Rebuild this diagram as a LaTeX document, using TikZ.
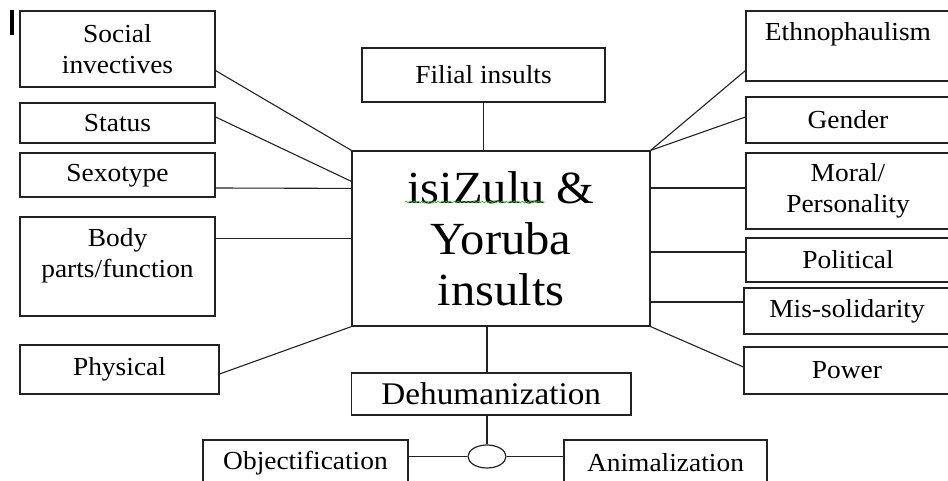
\documentclass[tikz,border=0pt]{standalone}
\usepackage{fontspec}
\setmainfont{Liberation Serif}[FakeStretch=1.055]
\usetikzlibrary{decorations.pathmorphing,shapes.geometric}
\definecolor{ln}{HTML}{222222}
\tikzset{
  box/.style={draw=ln, line width=1.2pt, rectangle, inner sep=0pt, align=center, font=\fontsize{26}{31}\selectfont},
  conn/.style={draw=ln, line width=1.1pt},
}
\begin{document}
\begin{tikzpicture}[x=1pt,y=-1pt]
\useasboundingbox (0,0) rectangle (948,481);
\clip (0,0) rectangle (948,481);
\fill[black] (10,10) rectangle (13.5,35);
% left
\node[box, minimum width=195, minimum height=76] (soc) at (117.5,49) {Social\\invectives};
\node[box, minimum width=195, minimum height=40] (status) at (117.5,123) {Status};
\node[box, minimum width=195, minimum height=44] (sexo) at (117.5,175) {\strut Sexotype};
\node[box, minimum width=195, minimum height=99] (body) at (117.5,266.5) {Body\\parts/function\\[-4pt]\mbox{}};
\node[box, minimum width=199, minimum height=49] (phys) at (119.5,369.5) {Physical};
% top and center
\node[box, minimum width=243, minimum height=54] (filial) at (483.5,75) {Filial insults};
\node[box, minimum width=298, minimum height=175, font=\fontsize{46}{51}\selectfont] (center) at (501,238.5) {isiZulu \&\\Yoruba\\insults};
% right
\node[box, minimum width=204, minimum height=70] (ethno) at (848,46) {Ethnophaulism\\[-2pt]\mbox{}};
\node[box, minimum width=204, minimum height=46] (gender) at (848,120) {Gender};
\node[box, minimum width=204, minimum height=76] (moral) at (848,191) {Moral/\\Personality};
\node[box, minimum width=204, minimum height=44] (polit) at (848,260) {Political};
\node[box, minimum width=206, minimum height=46] (missol) at (847,311) {Mis-solidarity};
\node[box, minimum width=206, minimum height=47] (power) at (847,370.5) {Power};
% bottom
\node[box, minimum width=279.5, minimum height=42, font=\fontsize{31.5}{34}\selectfont] (dehum) at (491.25,394) {Dehumanization};
\node[draw=ln, line width=1.2pt, ellipse, minimum width=38, minimum height=23, inner sep=0pt] (ell) at (487,456.5) {};
\node[box, minimum width=205, minimum height=46] (obj) at (305.5,463) {Objectification};
\node[box, minimum width=203, minimum height=46] (anim) at (665.5,463) {Animalization};
% spell-check underline
\coordinate (sq1) at (405,202);
\coordinate (sq2) at (545,202);
\draw[green!65!black!80, line width=0.7pt, decorate, decoration={snake, amplitude=0.9pt, segment length=4pt}] (sq1) -- (sq2);
% connectors
\draw[conn] ([yshift=17pt]soc.south east) -- (center.north west);
\draw[conn] ([yshift=6pt]status.east) -- ([yshift=-31pt]center.north west);
\draw[conn] ([yshift=-13pt]sexo.east) -- ([yshift=-38pt]center.north west);
\draw[conn] (body.east |- center.west) -- (center.west);
\draw[conn] ([yshift=-4.5pt]phys.east) -- (center.south west);
\draw[conn] (filial.south) -- (filial.south |- center.north);
\draw[conn] ([yshift=11pt]ethno.south west) -- (center.north east);
\draw[conn] ([yshift=3pt]gender.west) -- (center.north east);
\coordinate (m1) at ([yshift=3pt]moral.west);
\draw[conn] (m1) -- (center.east |- m1);
\coordinate (p1) at ([yshift=8pt]polit.west);
\draw[conn] (p1) -- (center.east |- p1);
\coordinate (s1) at ([yshift=9pt]missol.west);
\draw[conn] (s1) -- (center.east |- s1);
\draw[conn] ([yshift=3.5pt]power.west) -- (center.south east);
\draw[conn] (ell.north |- center.south) -- (ell.north |- dehum.north);
\draw[conn] (ell.north |- dehum.south) -- (ell.north);
\draw[conn] (ell.west) -- (obj.east |- ell.west);
\draw[conn] (ell.east) -- (anim.west |- ell.east);
\end{tikzpicture}
\end{document}
